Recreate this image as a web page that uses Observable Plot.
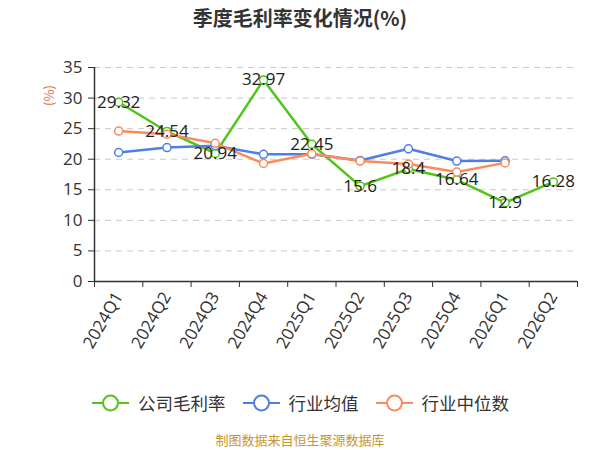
<!DOCTYPE html>
<html>
<head>
<meta charset="utf-8">
<script src="https://cdn.jsdelivr.net/npm/d3@7"></script>
<script src="https://cdn.jsdelivr.net/npm/@observablehq/plot@0.6"></script>
<style>
  body { margin: 0; background: #fff; font-family: "Open Sans", "Noto Sans CJK SC", sans-serif; }
  #wrap { position: relative; width: 600px; height: 450px; }
  #title { position: absolute; top: 3px; left: 0; width: 600px; text-align: center; font-size: 20px; font-weight: bold; color: #333; font-family: "Noto Sans CJK SC", sans-serif; }
  #chart { position: absolute; top: 40px; left: 0; }
  #ylab { position: absolute; left: 38px; top: 86px; font-size: 13px; color: #e8673c; transform: rotate(-90deg); transform-origin: center; font-family: "Noto Sans CJK SC", sans-serif; }
  #legend { position: absolute; top: 390px; left: 92px; display: flex; gap: 17px; font-size: 17.5px; color: #333; font-family: "Noto Sans CJK SC", sans-serif; }
  .item { display: flex; align-items: center; gap: 9px; }
  #caption { position: absolute; top: 430px; left: 0; width: 600px; text-align: center; font-size: 13px; color: #c9962e; font-family: "Noto Sans CJK SC", sans-serif; }
</style>
</head>
<body>
<div id="wrap">
  <div id="title">季度毛利率变化情况(%)</div>
  <div id="ylab">(%)</div>
  <div id="chart"></div>
  <div id="legend"></div>
  <div id="caption">制图数据来自恒生聚源数据库</div>
</div>
<script>
const quarters = ["2024Q1","2024Q2","2024Q3","2024Q4","2025Q1","2025Q2","2025Q3","2025Q4","2026Q1","2026Q2"];
const companyMargin = [29.32, 24.54, 20.94, 32.97, 22.45, 15.6, 18.4, 16.64, 12.9, 16.28];
const industryAvg = [21.1, 21.9, 22.2, 20.8, 20.8, 19.8, 21.7, 19.7, 19.75, null];
const industryMedian = [24.6, 24.1, 22.6, 19.3, 20.9, 19.7, 19.2, 17.9, 19.4, null];
const yTicks = [0, 5, 10, 15, 20, 25, 30, 35];
const seriesNames = ["公司毛利率", "行业均值", "行业中位数"];
const seriesColors = ["#52c41a", "#4e7fe8", "#fa8b5c"];

const seriesValues = [companyMargin, industryAvg, industryMedian];
const rows = [];
seriesValues.forEach((vals, s) => vals.forEach((v, i) => {
  if (v != null) rows.push({i, q: quarters[i], v, series: seriesNames[s]});
}));
const idx = quarters.map((_, i) => i);
const bounds = [...idx.map(i => i - 0.5), quarters.length - 0.5];

const lineMarks = seriesNames.flatMap((name, s) => {
  const d = rows.filter(r => r.series === name);
  return [
    Plot.line(d, {x: "i", y: "v", stroke: seriesColors[s], strokeWidth: 2.5}),
    Plot.dot(d, {x: "i", y: "v", r: 4, fill: "white", stroke: seriesColors[s], strokeWidth: 1.5})
  ];
});
const companyRows = rows.filter(r => r.series === seriesNames[0]);

const plot = Plot.plot({
  width: 600,
  height: 345,
  marginTop: 27,
  marginBottom: 104,
  marginLeft: 94,
  marginRight: 23,
  style: {fontFamily: "'Open Sans', 'Noto Sans CJK SC', sans-serif", background: "transparent"},
  x: {domain: [-0.5, quarters.length - 0.5]},
  y: {domain: [0, 35]},
  marks: [
    Plot.gridY(yTicks.filter(t => t > 0), {stroke: "#c8c8c8", strokeOpacity: 1, strokeDasharray: "6,5", strokeWidth: 1}),
    Plot.axisY({ticks: yTicks, tickSize: 6, tickPadding: 6, fontSize: 17, color: "#333", label: null, stroke: "#333"}),
    Plot.axisX({ticks: bounds, tickSize: 6, tickFormat: () => "", label: null, stroke: "#333"}),
    Plot.axisX({ticks: idx, tickSize: 0, tickPadding: 12, tickRotate: -60, tickFormat: i => quarters[i], fontSize: 17, color: "#333", label: null}),
    Plot.ruleX([-0.5], {stroke: "#333", strokeWidth: 1.5}),
    Plot.ruleY([0], {stroke: "#333", strokeWidth: 1.5}),
    ...lineMarks,
    Plot.text(companyRows, {x: "i", y: "v", text: d => String(d.v), fontSize: 17, fill: "#222"})
  ]
});
document.getElementById("chart").appendChild(plot);

const legend = document.getElementById("legend");
seriesNames.forEach((name, s) => {
  const item = document.createElement("div");
  item.className = "item";
  item.innerHTML = `<svg width="37" height="20"><line x1="0" y1="10" x2="37" y2="10" stroke="${seriesColors[s]}" stroke-width="2"/><circle cx="18.5" cy="10" r="7.5" fill="white" stroke="${seriesColors[s]}" stroke-width="2"/></svg><span>${name}</span>`;
  legend.appendChild(item);
});
</script>
</body>
</html>
